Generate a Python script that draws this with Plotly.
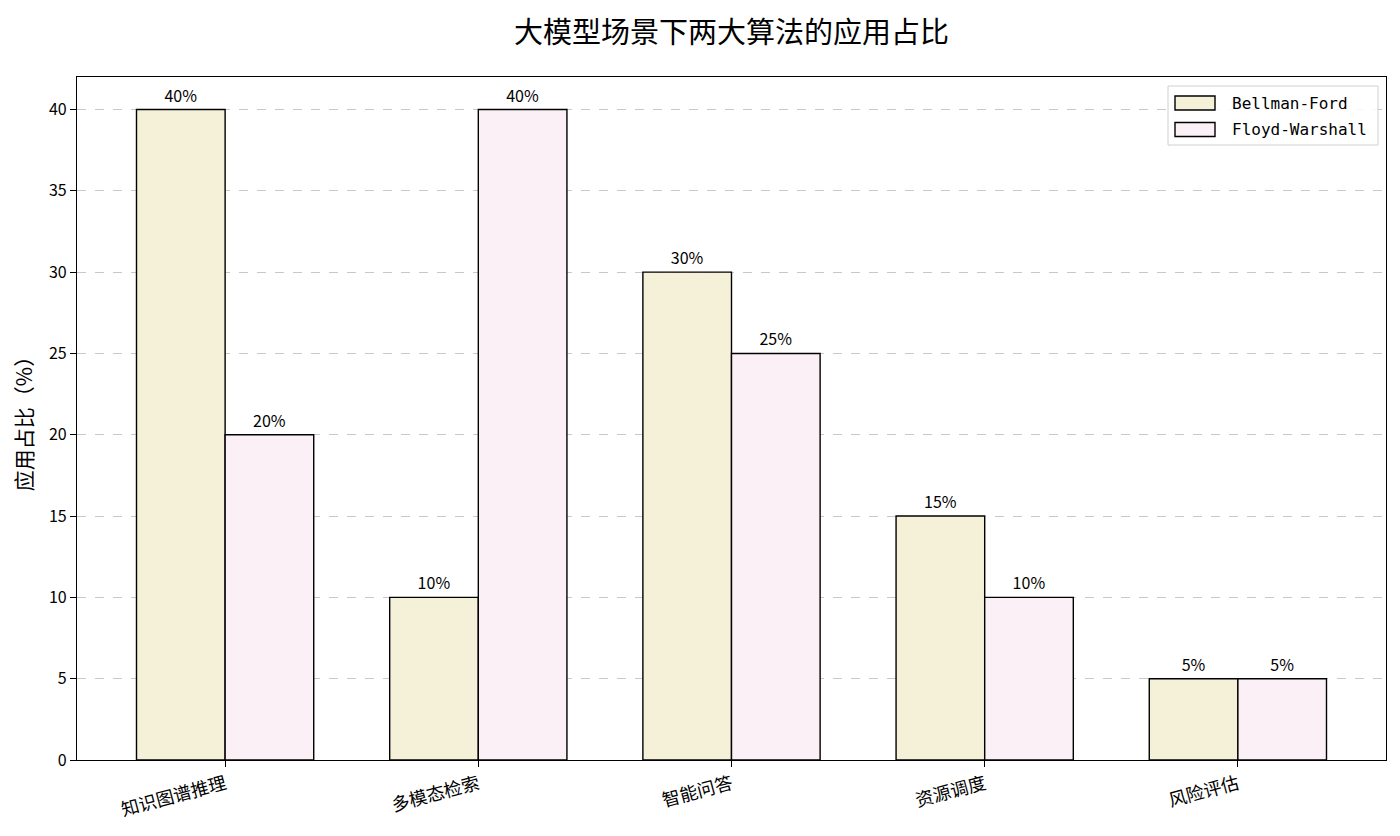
import plotly.graph_objects as go

categories = ["知识图谱推理", "多模态检索", "智能问答", "资源调度", "风险评估"]
bellman_ford = [40, 10, 30, 15, 5]
floyd_warshall = [20, 40, 25, 10, 5]
series_names = ["Bellman-Ford", "Floyd-Warshall"]
y_ticks = [0, 5, 10, 15, 20, 25, 30, 35, 40]

FONT = "Noto Sans CJK SC, Noto Sans, sans-serif"
MONO = "DejaVu Sans Mono, monospace"
colors = ["#F5F0D8", "#FBF0F6"]

# page pixel geometry (browser adds 8px body margin)
OFF = 8
PL, PR, PT, PB = 77, 1386, 77, 760
W, H = 1400 - OFF, 836 - OFF


def px_x(px):
    return (px - PL) / (PR - PL)


def px_y(py):
    return 1 - (py - PT) / (PB - PT)


x_idx = list(range(len(categories)))
w = 0.35

fig = go.Figure()
for name, vals, col, off in [(series_names[0], bellman_ford, colors[0], -w / 2),
                             (series_names[1], floyd_warshall, colors[1], w / 2)]:
    fig.add_trace(go.Bar(
        x=[i + off for i in x_idx], y=vals, width=w, name=name,
        marker=dict(color=col, line=dict(color="black", width=1.4)),
        text=[f"{v}%" for v in vals], textposition="outside",
        textfont=dict(family=FONT, size=16, color="black"),
        cliponaxis=False, showlegend=False,
    ))

shapes = []
annotations = []
# legend frame
shapes.append(dict(type="rect", xref="paper", yref="paper",
                   x0=px_x(1168), x1=px_x(1378), y0=px_y(145), y1=px_y(86),
                   line=dict(color="#D0D0D0", width=1), fillcolor="rgba(255,255,255,0.85)",
                   layer="above"))
for k, (name, col) in enumerate(zip(series_names, colors)):
    ytop = 96 + k * 26.5
    shapes.append(dict(type="rect", xref="paper", yref="paper",
                       x0=px_x(1175), x1=px_x(1215), y0=px_y(ytop + 14), y1=px_y(ytop),
                       line=dict(color="black", width=1.4), fillcolor=col, layer="above"))
    annotations.append(dict(xref="paper", yref="paper", x=px_x(1230), y=px_y(ytop + 7),
                            xanchor="left", yanchor="middle", text=name, showarrow=False,
                            font=dict(family=MONO, size=16, color="black")))

# title as annotation
annotations.append(dict(xref="paper", yref="paper", x=px_x(731), y=px_y(30),
                        xanchor="center", yanchor="middle", showarrow=False,
                        text="大模型场景下两大算法的应用占比",
                        font=dict(family=FONT, size=29, color="black")))

fig.update_layout(
    width=W, height=H,
    margin=dict(l=PL - OFF, r=1400 - PR, t=PT - OFF, b=836 - PB),
    paper_bgcolor="white", plot_bgcolor="white",
    barmode="overlay",
    font=dict(family=FONT, color="black"),
    showlegend=False,
    shapes=shapes,
    annotations=annotations,
    xaxis=dict(
        range=[-0.585, 4.585], tickmode="array", tickvals=x_idx, ticktext=categories,
        tickangle=-15, tickfont=dict(family=FONT, size=18, color="black"),
        showline=True, linecolor="black", linewidth=1.2, mirror=True,
        ticks="outside", ticklen=6, tickcolor="black", showgrid=False, zeroline=False,
    ),
    yaxis=dict(
        range=[0, 42], tickmode="array", tickvals=y_ticks,
        tickfont=dict(family=FONT, size=16, color="black"),
        title=dict(text="应用占比（%）", font=dict(family=FONT, size=21, color="black"), standoff=12),
        showline=True, linecolor="black", linewidth=1.2, mirror=True,
        ticks="outside", ticklen=6, tickcolor="black",
        showgrid=True, gridcolor="#C8C8C8", griddash="dash", gridwidth=1, zeroline=False,
    ),
)

fig.write_html("out.html")
